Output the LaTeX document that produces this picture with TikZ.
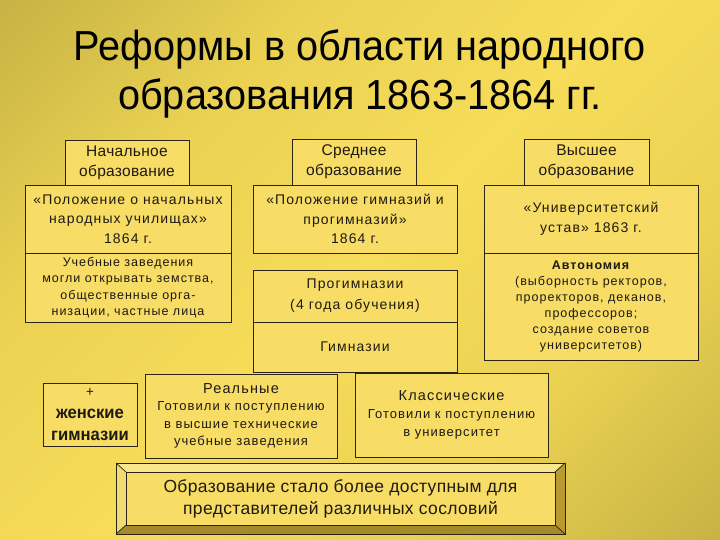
\documentclass[tikz,border=0pt]{standalone}
\usepackage{fontspec}
\setmainfont[LetterSpace=8]{Liberation Sans}
\newfontfamily\titlefont[FakeStretch=0.945]{Liberation Sans}
\newfontfamily\hdrfont[LetterSpace=2]{Liberation Sans}
\newfontfamily\narrowfont[FakeStretch=0.95]{Liberation Sans}
\usetikzlibrary{calc}
\definecolor{olv}{HTML}{A89A38}
\definecolor{yelmid}{HTML}{EAD152}
\definecolor{yel}{HTML}{F6DC58}
\definecolor{boxc}{HTML}{F7DC66}
\definecolor{linec}{HTML}{2A2418}
\definecolor{txtc}{HTML}{1E1A12}
\definecolor{bevtop}{HTML}{F8E68E}
\definecolor{bevleft}{HTML}{F2DA74}
\definecolor{bevright}{HTML}{B89A30}
\definecolor{bevbot}{HTML}{A48A2A}
\pgfdeclareverticalshading{bgshade}{100bp}{color(0bp)=(olv); color(32bp)=(yelmid); color(50bp)=(yel); color(68bp)=(yelmid); color(100bp)=(olv)}
\begin{document}
\begin{tikzpicture}[x=1pt,y=-1pt,
  box/.style={draw=linec, fill=boxc, line width=0.9pt, align=center, inner sep=0pt, text=txtc,
              font=\fontsize{14}{19.5}\selectfont},
  hdr/.style={box, font=\hdrfont\fontsize{15.5}{20}\selectfont},
  small/.style={box, font=\fontsize{12.5}{16.5}\selectfont},
  bevel/.style={draw=linec, line width=0.7pt, line join=miter}
]
\useasboundingbox (0,0) rectangle (720,540);
\shade[shading=bgshade, shading angle=45] (0,0) rectangle (720,540);

% title
\node[font=\titlefont\fontsize{42}{49}\selectfont, align=center, text=black] (title) at (360,74)
  {Реформы в области народного\\образования 1863-1864 гг.};

% primary education
\node[hdr, minimum width=124pt, minimum height=45pt] (hN) at (127,162.5) {Начальное\\образование};
\node[box, minimum width=206pt, minimum height=68pt] (pN) at (128,219) {«Положение о начальных\\народных училищах»\\1864 г.};
\node[small, minimum width=206pt, minimum height=69pt] (uN) at (128,287.5) {Учебные заведения\\могли открывать земства,\\общественные орга-\\низации, частные лица};

% secondary education
\node[hdr, minimum width=124pt, minimum height=46pt] (hS) at (354,162) {Среднее\\образование};
\node[box, minimum width=204pt, minimum height=68pt] (pS) at (355,219) {«Положение гимназий и\\прогимназий»\\1864 г.};
\node[box, font=\fontsize{14}{21}\selectfont, minimum width=204pt, minimum height=52pt] (prog) at (355,296) {Прогимназии\\(4 года обучения)};
\node[box, minimum width=204pt, minimum height=50pt] (gym) at (355,347) {Гимназии};

% higher education
\node[hdr, minimum width=125pt, minimum height=46pt] (hV) at (586.5,162) {Высшее\\образование};
\node[box, minimum width=214pt, minimum height=68pt] (pV) at (591,219) {«Университетский\\устав» 1863 г.};
\node[small, font=\fontsize{12.5}{16}\selectfont, minimum width=214pt, minimum height=107pt] (aV) at (591,306.5)
  {\textbf{Автономия}\\(выборность ректоров,\\проректоров, деканов,\\профессоров;\\создание советов\\университетов)};

% lower row
\node[box, font=\narrowfont\bfseries\fontsize{17.5}{22}\selectfont, minimum width=94pt, minimum height=63pt] (women) at (90,414.5)
  {{\mdseries\fontsize{14}{22}\selectfont +}\\женские\\гимназии};
\node[box, font=\fontsize{13}{17.5}\selectfont, minimum width=192pt, minimum height=84pt] (real) at (241,416)
  {{\fontsize{14.5}{17.5}\selectfont Реальные}\\Готовили к поступлению\\в высшие технические\\учебные заведения};
\node[box, font=\fontsize{13}{18}\selectfont, minimum width=193pt, minimum height=84pt] (class) at (451.5,415)
  {{\fontsize{14.5}{18}\selectfont Классические}\\Готовили к поступлению\\в университет};

% bevelled result box
\coordinate (o1) at (116,463); \coordinate (o2) at (565,463);
\coordinate (o3) at (565,534); \coordinate (o4) at (116,534);
\coordinate (i1) at (126,472); \coordinate (i2) at (555,472);
\coordinate (i3) at (555,525); \coordinate (i4) at (126,525);
\fill[bevtop] (o1) -- (o2) -- (i2) -- (i1) -- cycle;
\fill[bevleft] (o1) -- (i1) -- (i4) -- (o4) -- cycle;
\fill[bevright] (o2) -- (o3) -- (i3) -- (i2) -- cycle;
\fill[bevbot] (o4) -- (i4) -- (i3) -- (o3) -- cycle;
\draw[bevel] (o1) -- (o2) -- (o3) -- (o4) -- cycle;
\draw[bevel] (o1) -- (i1) (o2) -- (i2) (o3) -- (i3) (o4) -- (i4);
\node[box, font=\hdrfont\fontsize{17.5}{22}\selectfont, minimum width=429pt, minimum height=53pt] (res) at (340.5,498.5)
  {Образование стало более доступным для\\представителей различных сословий};
\end{tikzpicture}
\end{document}
